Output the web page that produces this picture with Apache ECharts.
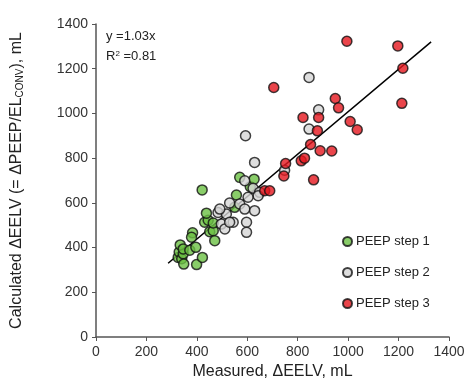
<!DOCTYPE html>
<html><head><meta charset="utf-8">
<script src="https://cdn.jsdelivr.net/npm/echarts@6/dist/echarts.min.js"></script>
<style>html,body{margin:0;padding:0;background:#fff}#c{width:468px;height:385px}</style>
</head><body><div id="c"></div>
<script>
const xTicks = [0,200,400,600,800,1000,1200,1400];
const yTicks = [0,200,400,600,800,1000,1200,1400];
const step1 = [[326,356],[330,380],[340,350],[346,372],[334,412],[346,394],[348,326],[399,324],[372,388],[383,466],[379,446],[396,401],[422,356],[421,658],[431,513],[445,522],[438,554],[451,471],[465,475],[465,510],[471,431],[550,580],[557,635],[570,714],[612,672],[627,706]];
const step2 = [[484,557],[517,550],[497,505],[544,513],[597,513],[597,468],[511,483],[530,513],[491,572],[530,599],[570,595],[590,572],[629,565],[590,699],[623,665],[649,647],[643,632],[603,625],[593,900],[629,781],[748,746],[845,1161],[883,1016],[845,930]];
const step3 = [[669,654],[689,654],[705,1116],[752,776],[745,720],[814,788],[827,800],[851,861],[863,703],[878,922],[883,982],[821,982],[889,833],[935,832],[949,1067],[962,1025],[1008,964],[1036,927],[995,1323],[1197,1302],[1217,1202],[1213,1045]];
const fitLine = [[286,330],[1329,1320]];
const seriesNames = ['PEEP step 1','PEEP step 2','PEEP step 3'];
const colors = ['#6cc143','#d6d6d6','#e5161e'];

const chart = echarts.init(document.getElementById('c'));
const ff = 'Liberation Sans, Arial, sans-serif';
const mk = (name, data, color) => ({
  name, type:'scatter', data, symbol:'circle', symbolSize:10,
  itemStyle:{color, borderColor:'#111', borderWidth:1.5}, z:3
});
const fmt = v => String(v);
chart.setOption({
  animation:false,
  textStyle:{fontFamily:ff},
  grid:{left:96, right:19, top:24, bottom:47},
  legend:{
    orient:'vertical', left:337, top:230, itemGap:18,
    itemWidth:9, itemHeight:9, icon:'circle',
    data:seriesNames,
    textStyle:{fontSize:13, color:'#222', fontFamily:ff, padding:[0,0,0,-1]}
  },
  xAxis:{
    type:'value', min:0, max:1400, interval:200,
    name:'Measured, ΔEELV, mL', nameLocation:'middle', nameGap:27,
    nameTextStyle:{fontSize:16, color:'#222'},
    axisLine:{show:true, lineStyle:{color:'#555', width:1.5}},
    axisTick:{show:true, length:4, lineStyle:{color:'#555'}},
    axisLabel:{fontSize:14, color:'#333', margin:8, formatter:fmt},
    splitLine:{show:false}
  },
  yAxis:{
    type:'value', min:0, max:1400, interval:200,
    name:'{n|Calculated ΔEELV (= ΔPEEP/EL}{s|CONV}{n|), mL}', nameLocation:'middle', nameGap:71, nameRotate:90,
    nameTextStyle:{
      color:'#222',
      rich:{
        n:{fontSize:16, color:'#222', fontFamily:ff, lineHeight:20, verticalAlign:'bottom'},
        s:{fontSize:10, color:'#222', fontFamily:ff, lineHeight:20, verticalAlign:'bottom'}
      }
    },
    axisLine:{show:true, lineStyle:{color:'#555', width:1.5}},
    axisTick:{show:true, length:4, lineStyle:{color:'#555'}},
    axisLabel:{fontSize:14, color:'#333', margin:8, formatter:fmt},
    splitLine:{show:false}
  },
  graphic:[
    {type:'text', left:106, top:30, style:{text:'y =1.03x', fontSize:13, fill:'#222', fontFamily:ff}},
    {type:'text', left:106, top:50, style:{
      text:'{n|R}{p|2}{n| =0.81}', fontSize:13, fill:'#222', fontFamily:ff,
      rich:{n:{fontSize:13, fill:'#222', lineHeight:16, verticalAlign:'top'}, p:{fontSize:8, fill:'#222', lineHeight:16, verticalAlign:'top'}}
    }}
  ],
  series:[
    {type:'line', data:fitLine, symbol:'none', lineStyle:{color:'#000', width:1.5}, z:2, silent:true},
    mk(seriesNames[0], step1, colors[0]),
    mk(seriesNames[1], step2, colors[1]),
    mk(seriesNames[2], step3, colors[2])
  ]
});
</script></body></html>
